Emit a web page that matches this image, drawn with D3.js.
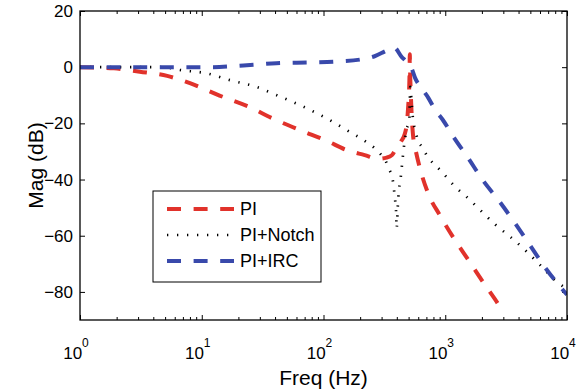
<!DOCTYPE html>
<html><head><meta charset="utf-8">
<script src="https://cdn.jsdelivr.net/npm/d3@7"></script>
<style>
body{margin:0;background:#fff}
svg{display:block}
text{font-family:"Liberation Sans",Arial,Helvetica,sans-serif;fill:#000}
</style>
</head><body>
<svg id="c" width="580" height="392"></svg>
<script>
// ---- data ----
const freqPI = [1, 1.9, 3.1, 5.2, 8, 14, 25, 38, 64, 106, 155, 218, 280, 330, 365, 399, 435, 467, 482, 497, 505, 509, 511.5, 514, 520, 530, 545, 565, 620, 723, 906, 1200, 1580, 2080, 2780, 2980];
const magPI  = [0, -0.4, -1.6, -3.1, -5.7, -10.1, -14.3, -18.2, -22.4, -26.2, -29.5, -31.3, -32.6, -32.2, -31.3, -28.5, -26.3, -23.5, -20.6, -13.5, -8.1, -2.2, 4.6, -1, -8, -17, -24.7, -28.5, -36, -44.9, -52.8, -61.5, -69.2, -77, -85, -87.2];

const freqNotch = [1, 4.8, 6.6, 11, 17, 28, 41, 64, 106, 155, 212, 291, 320, 347, 370, 379, 387, 394, 399, 405, 411, 430, 447, 467, 482, 507, 512, 516, 530, 545, 565, 592, 640, 703, 906, 1028, 1164, 1545, 1991, 2647, 3403, 4518, 6000, 7970, 10000];
const magNotch  = [0, 0, -1.0, -2.2, -4.6, -7, -9.9, -13.5, -18.2, -22.4, -25.9, -30.7, -33, -36.4, -40, -43.5, -47, -51, -57.4, -52, -46.7, -39.6, -32.4, -25.4, -22.1, -18.8, -12, -7, -13, -19, -22.1, -25.7, -28.3, -31.3, -36.6, -39.2, -41.9, -46.7, -51.4, -56.5, -60.3, -65.1, -70.4, -75.8, -79];

const freqIRC = [1, 12, 22, 41, 83, 124, 206, 260, 330, 380, 438, 480, 528, 565, 640, 728, 826, 956, 1164, 1545, 2034, 2800, 3750, 4950, 6530, 9000, 10000];
const magIRC  = [0, 0, 0.6, 1.4, 1.7, 2.0, 2.8, 3.8, 5.9, 7.0, 3.7, 2.0, -0.3, -3.8, -7.5, -11, -15.2, -18.8, -24.7, -32.4, -40.2, -47.9, -55.6, -63.3, -71, -78.7, -81];

const seriesNames = ["PI", "PI+Notch", "PI+IRC"];
const xTickValues = [1, 10, 100, 1000, 10000];
const xTickExponents = ["0", "1", "2", "3", "4"];
const yTickValues = [20, 0, -20, -40, -60, -80];

// ---- layout ----
const L = 80, R = 567, T = 11, B = 320;
const svg = d3.select("#c");
const x = d3.scaleLog().domain([1, 1e4]).range([L, R]);
const y = d3.scaleLinear().domain([-90, 20]).range([B, T]);

const styles = [
  {color: "#e1322b", width: 4, dash: "14,12.6"},
  {color: "#000000", width: 2.7, dash: "1.3,8.7"},
  {color: "#3949ab", width: 4, dash: "14,12.6"}
];
const data = [
  d3.zip(freqPI, magPI),
  d3.zip(freqNotch, magNotch),
  d3.zip(freqIRC, magIRC)
];

// clip
svg.append("clipPath").attr("id", "clip").append("rect")
  .attr("x", L).attr("y", T).attr("width", R - L).attr("height", B - T);

// minor ticks
const minors = [];
for (let d = 1; d < 1e4; d *= 10) for (let k = 2; k <= 9; k++) minors.push(d * k);

const axisBot = d3.axisBottom(x).tickValues(xTickValues).tickSizeInner(-5).tickSizeOuter(0).tickFormat("");
const axisBotMinor = d3.axisBottom(x).tickValues(minors).tickSizeInner(-3).tickSizeOuter(0).tickFormat("");
const axisTop = d3.axisTop(x).tickValues(xTickValues).tickSizeInner(-5).tickSizeOuter(0).tickFormat("");
const axisTopMinor = d3.axisTop(x).tickValues(minors).tickSizeInner(-3).tickSizeOuter(0).tickFormat("");
const axisLeft = d3.axisLeft(y).tickValues(yTickValues).tickSizeInner(-5).tickSizeOuter(0).tickFormat("");
const axisRight = d3.axisRight(y).tickValues(yTickValues).tickSizeInner(-5).tickSizeOuter(0).tickFormat("");

function styleAxis(g){
  g.select(".domain").remove();
  g.selectAll("line").attr("stroke", "#000").attr("stroke-width", 1);
}
svg.append("g").attr("transform", `translate(0,${B})`).call(axisBot).call(styleAxis);
svg.append("g").attr("transform", `translate(0,${B})`).call(axisBotMinor).call(styleAxis);
svg.append("g").attr("transform", `translate(0,${T})`).call(axisTop).call(styleAxis);
svg.append("g").attr("transform", `translate(0,${T})`).call(axisTopMinor).call(styleAxis);
svg.append("g").attr("transform", `translate(${L},0)`).call(axisLeft).call(styleAxis);
svg.append("g").attr("transform", `translate(${R},0)`).call(axisRight).call(styleAxis);

// lines
const line = d3.line().x(d => x(d[0])).y(d => y(d[1])).curve(d3.curveMonotoneX);
const gLines = svg.append("g").attr("clip-path", "url(#clip)");
data.forEach((d, i) => {
  gLines.append("path").datum(d).attr("d", line)
    .attr("fill", "none")
    .attr("stroke", styles[i].color)
    .attr("stroke-width", styles[i].width)
    .attr("stroke-dasharray", styles[i].dash)
    .attr("stroke-linejoin", "round");
});

// frame
svg.append("rect").attr("x", L).attr("y", T).attr("width", R - L).attr("height", B - T)
  .attr("fill", "none").attr("stroke", "#000").attr("stroke-width", 1.3);

// y tick labels
const fmt = d3.format("d");
svg.append("g").selectAll("text").data(yTickValues).join("text")
  .attr("x", L - 7).attr("y", d => y(d)).attr("dy", "0.36em")
  .attr("text-anchor", "end").attr("font-size", 17)
  .text(d => fmt(d));

// x tick labels 10^n
const xl = svg.append("g").selectAll("text").data(xTickValues).join("text")
  .attr("x", d => x(d) - 4).attr("y", 359)
  .attr("text-anchor", "middle").attr("font-size", 17);
xl.append("tspan").text("10");
xl.append("tspan").attr("dy", -12).attr("font-size", 12).text((d, i) => xTickExponents[i]);

// axis titles
svg.append("text").attr("x", (L + R) / 2).attr("y", 385).attr("text-anchor", "middle")
  .attr("font-size", 21).text("Freq (Hz)");
svg.append("text").attr("transform", `translate(43,${(T + B) / 2}) rotate(-90)`)
  .attr("text-anchor", "middle").attr("font-size", 21).text("Mag (dB)");

// legend
const lg = svg.append("g");
lg.append("rect").attr("x", 153).attr("y", 191).attr("width", 168).attr("height", 91)
  .attr("fill", "#fff").attr("stroke", "#000").attr("stroke-width", 1);
const rowsY = [209, 235, 261];
seriesNames.forEach((n, i) => {
  lg.append("line").attr("x1", 167).attr("x2", 234).attr("y1", rowsY[i]).attr("y2", rowsY[i])
    .attr("stroke", styles[i].color).attr("stroke-width", styles[i].width)
    .attr("stroke-dasharray", styles[i].dash);
  lg.append("text").attr("x", 240).attr("y", rowsY[i]).attr("dy", "0.36em")
    .attr("font-size", 18).text(n);
});
</script>
</body></html>
